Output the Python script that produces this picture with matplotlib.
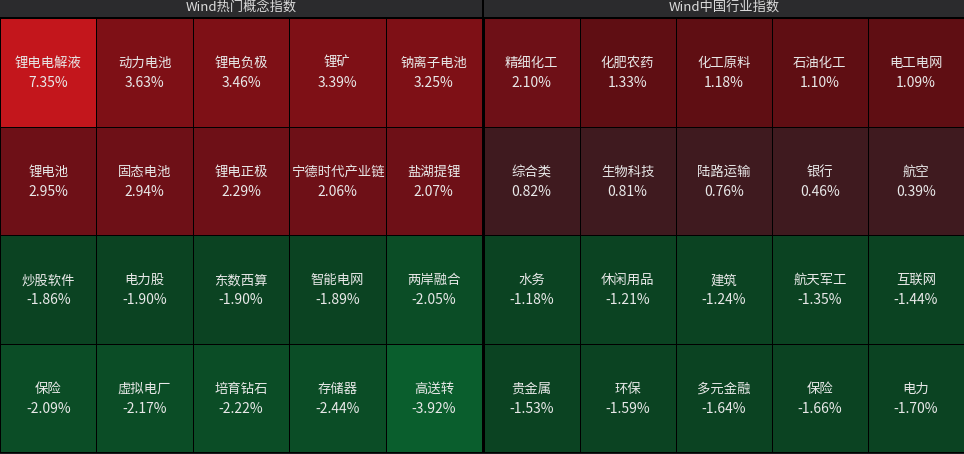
import numpy as np
import matplotlib.pyplot as plt
from matplotlib.colors import ListedColormap, BoundaryNorm

plt.rcParams['font.family'] = ['Noto Sans CJK SC', 'DejaVu Sans']

# Data (row-major, 4 rows x 5 cols per panel)
concept_title = "Wind热门概念指数"
concept_names = ["锂电电解液", "动力电池", "锂电负极", "锂矿", "钠离子电池",
                 "锂电池", "固态电池", "锂电正极", "宁德时代产业链", "盐湖提锂",
                 "炒股软件", "电力股", "东数西算", "智能电网", "两岸融合",
                 "保险", "虚拟电厂", "培育钻石", "存储器", "高送转"]
concept_values = [7.35, 3.63, 3.46, 3.39, 3.25,
                  2.95, 2.94, 2.29, 2.06, 2.07,
                  -1.86, -1.90, -1.90, -1.89, -2.05,
                  -2.09, -2.17, -2.22, -2.44, -3.92]

industry_title = "Wind中国行业指数"
industry_names = ["精细化工", "化肥农药", "化工原料", "石油化工", "电工电网",
                  "综合类", "生物科技", "陆路运输", "银行", "航空",
                  "水务", "休闲用品", "建筑", "航天军工", "互联网",
                  "贵金属", "环保", "多元金融", "保险", "电力"]
industry_values = [2.10, 1.33, 1.18, 1.10, 1.09,
                   0.82, 0.81, 0.76, 0.46, 0.39,
                   -1.18, -1.21, -1.24, -1.35, -1.44,
                   -1.53, -1.59, -1.64, -1.66, -1.70]

# stepped colour scale
bounds = [-10, -3, -2, -1, 0, 1, 2, 3, 5, 10]
colors = ["#0a5e2d", "#0b4d26", "#0b4322", "#0d3320",
          "#3f1a1f", "#5f0e13", "#6e1017", "#7e1016", "#c3161c"]
cmap = ListedColormap(colors)
norm = BoundaryNorm(bounds, cmap.N)

W, H = 964, 454
fig = plt.figure(figsize=(W / 100, H / 100), dpi=100, facecolor="#1c1d20")
ax = fig.add_axes([0, 0, 1, 1])
ax.set_xlim(0, W)
ax.set_ylim(H, 0)
ax.axis("off")

header_h = 17
top, bottom = 18, 452
ax.fill_between([0, W], 0, header_h, color="#2b2b2d", lw=0)
ax.fill_between([0, W], header_h, bottom + 0.5, color="black", lw=0)

panels = [(0, 482, concept_title, concept_names, concept_values),
          (483.5, 964, industry_title, industry_names, industry_values)]

nrows, ncols = 4, 5
for x0, x1, title, names, values in panels:
    ax.text((x0 + x1) / 2, header_h / 2, title, color="#dcdcdc",
            fontsize=9.5, ha="center", va="center")
    xe = np.linspace(x0, x1, ncols + 1)
    ye = np.linspace(top, bottom, nrows + 1)
    grid = np.array(values).reshape(nrows, ncols)
    ax.pcolormesh(xe, ye, grid, cmap=cmap, norm=norm,
                  edgecolors="black", linewidth=0.7)
    for k, (name, v) in enumerate(zip(names, values)):
        r, c = divmod(k, ncols)
        cx = (xe[c] + xe[c + 1]) / 2
        cy = (ye[r] + ye[r + 1]) / 2
        ax.text(cx, cy - 9, name, color="#e8e8e8", fontsize=9.6,
                ha="center", va="center")
        ax.text(cx, cy + 11, f"{v:.2f}%", color="#e8e8e8", fontsize=10,
                ha="center", va="center")

# separator between panels
ax.plot([482.7, 482.7], [0, bottom], color="black", lw=1.4)

fig.savefig("out.png", dpi=100, facecolor=fig.get_facecolor())
